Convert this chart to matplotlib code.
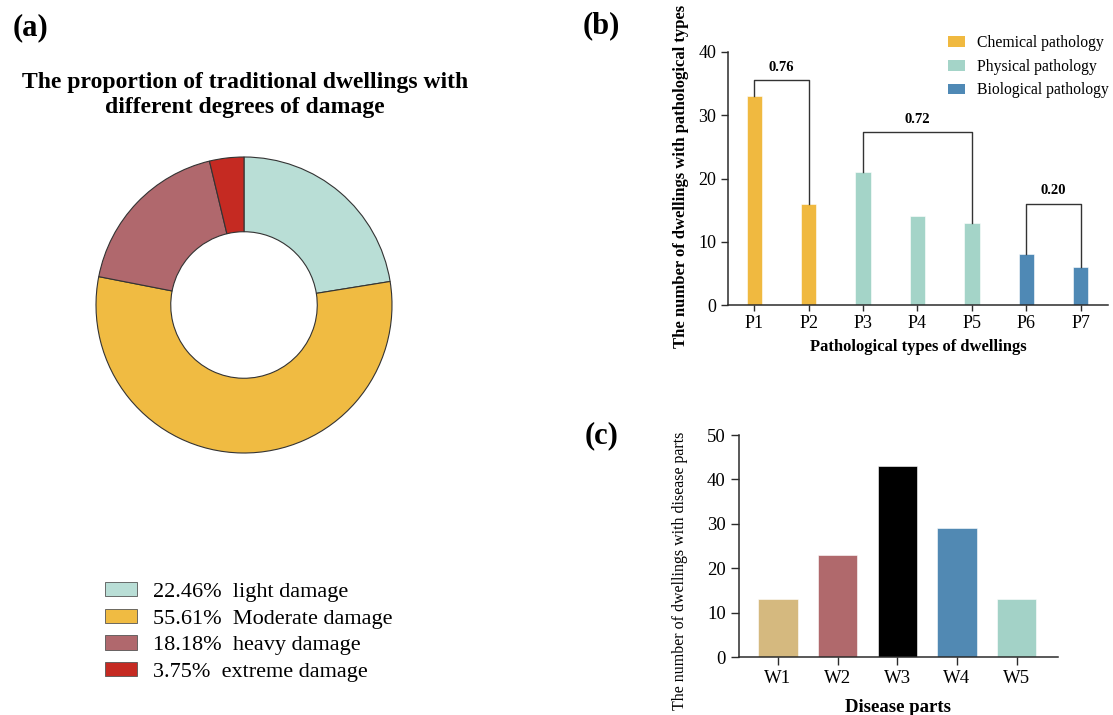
import matplotlib
matplotlib.use('Agg')
import matplotlib.pyplot as plt
from matplotlib.patches import Patch

plt.rcParams['font.family'] = ['Liberation Serif', 'DejaVu Serif']

# (a) damage share
damage_labels = ['light damage', 'Moderate damage', 'heavy damage', 'extreme damage']
damage_share = [22.46, 55.61, 18.18, 3.75]
damage_colors = ['#b9ded6', '#f0bb42', '#b0686d', '#c52a22']

# (b) pathology types
p_names = ['P1', 'P2', 'P3', 'P4', 'P5', 'P6', 'P7']
p_counts = [33, 16, 21, 14, 13, 8, 6]
p_groups = ['Chemical pathology', 'Chemical pathology', 'Physical pathology', 'Physical pathology',
            'Physical pathology', 'Biological pathology', 'Biological pathology']
group_colors = {'Chemical pathology': '#f0b940',
                'Physical pathology': '#a4d4c8',
                'Biological pathology': '#4f89b5'}
bracket_pairs = [(0, 1), (2, 4), (5, 6)]
bracket_tops = [35.5, 27.3, 16]
bracket_labels = ['0.76', '0.72', '0.20']

# (c) disease parts
w_names = ['W1', 'W2', 'W3', 'W4', 'W5']
w_counts = [13, 23, 43, 29, 13]
w_colors = ['#d5b97f', '#b0696c', '#000000', '#5189b3', '#a3d2c7']

W, H = 1113, 715
fig = plt.figure(figsize=(W / 100, H / 100), dpi=100)

def px_axes(x0, y0, x1, y1):
    # pixel box (top-left origin) -> figure axes
    return fig.add_axes([x0 / W, 1 - y1 / H, (x1 - x0) / W, (y1 - y0) / H])

axis_col = '#2b2b2b'

# ---- (a) donut ----
r = 148 * 1.04
ax_a = px_axes(244 - r, 305 - r, 244 + r, 305 + r)
ax_a.pie(damage_share, colors=damage_colors, startangle=90, counterclock=False,
         wedgeprops=dict(width=0.505, edgecolor='#333333', linewidth=0.8))
ax_a.set_xlim(-1.04, 1.04)
ax_a.set_ylim(-1.04, 1.04)
ax_a.set_aspect('auto')

fig.text(31 / W, 1 - 28 / H, '(a)', fontsize=22, fontweight='bold', ha='center', va='center')
fig.text(245 / W, 1 - 95 / H, 'The proportion of traditional dwellings with\ndifferent degrees of damage',
         fontsize=17, fontweight='bold', ha='center', va='center', linespacing=1.25)

handles = [Patch(facecolor=c, edgecolor='#555555', linewidth=0.6) for c in damage_colors]
labels = [f'{s:.2f}%  {n}' for s, n in zip(damage_share, damage_labels)]
fig.legend(handles, labels, loc='upper left', bbox_to_anchor=(105 / W, 1 - 582 / H),
           frameon=False, fontsize=16, labelspacing=0.3, handlelength=1.45,
           handleheight=0.62, handletextpad=0.7, borderpad=0, borderaxespad=0)

# ---- (b) pathology bars ----
ax_b = px_axes(728, 52, 1108, 305)
x_b = range(len(p_names))
ax_b.bar(x_b, p_counts, width=0.28, color=[group_colors[g] for g in p_groups],
         edgecolor='white', linewidth=0.4)
ax_b.set_xlim(-0.48, 6.5)
ax_b.set_ylim(0, 40)
ax_b.set_yticks([0, 10, 20, 30, 40])
ax_b.set_xticks(list(x_b))
ax_b.set_xticklabels(p_names)
for (i, j), top, lab in zip(bracket_pairs, bracket_tops, bracket_labels):
    ax_b.plot([i, i, j, j], [p_counts[i], top, top, p_counts[j]], color='#333333', lw=1.0)
    ax_b.text((i + j) / 2, top + 2.05, lab, ha='center', va='center',
              fontsize=10.5, fontweight='bold')
ax_b.set_xlabel('Pathological types of dwellings', fontsize=12, fontweight='bold')
ax_b.set_ylabel('The number of dwellings with pathological types', fontsize=12, fontweight='bold')
ax_b.xaxis.set_label_coords(0.5, -0.135)
ax_b.yaxis.set_label_coords(-0.103, 0.51)
ax_b.tick_params(axis='both', labelsize=13, color=axis_col, width=1.0)
ax_b.tick_params(axis='y', length=5)
ax_b.tick_params(axis='x', length=4)
for s in ['top', 'right']:
    ax_b.spines[s].set_visible(False)
for s in ['left', 'bottom']:
    ax_b.spines[s].set_color(axis_col)
    ax_b.spines[s].set_linewidth(1.1)
leg_handles = [Patch(facecolor=c) for c in group_colors.values()]
ax_b.legend(leg_handles, list(group_colors.keys()), loc='upper left',
            bbox_to_anchor=(0.578, 1.068), frameon=False, fontsize=11.3,
            labelspacing=0.5, handlelength=1.1, handleheight=0.7,
            handletextpad=0.75, borderpad=0, borderaxespad=0)

fig.text(601 / W, 1 - 26 / H, '(b)', fontsize=22, fontweight='bold', ha='center', va='center')

# ---- (c) disease parts ----
ax_c = px_axes(739, 435, 1058, 657)
x_c = range(len(w_names))
ax_c.bar(x_c, w_counts, width=0.66, color=w_colors, edgecolor='white', linewidth=0.4)
ax_c.set_xlim(-0.65, 4.69)
ax_c.set_ylim(0, 50)
ax_c.set_yticks([0, 10, 20, 30, 40, 50])
ax_c.set_xticks(list(x_c))
ax_c.set_xticklabels(w_names)
ax_c.set_xlabel('Disease parts', fontsize=13.5, fontweight='bold')
ax_c.set_ylabel('The number of dwellings with disease parts', fontsize=11.5)
ax_c.xaxis.set_label_coords(0.498, -0.19)
ax_c.yaxis.set_label_coords(-0.16, 0.39)
ax_c.tick_params(axis='both', labelsize=13.5, color=axis_col, width=1.0, length=6)
for s in ['top', 'right']:
    ax_c.spines[s].set_visible(False)
for s in ['left', 'bottom']:
    ax_c.spines[s].set_color(axis_col)
    ax_c.spines[s].set_linewidth(1.1)

fig.text(602 / W, 1 - 436 / H, '(c)', fontsize=22, fontweight='bold', ha='center', va='center')

fig.savefig('out.png', dpi=100)
